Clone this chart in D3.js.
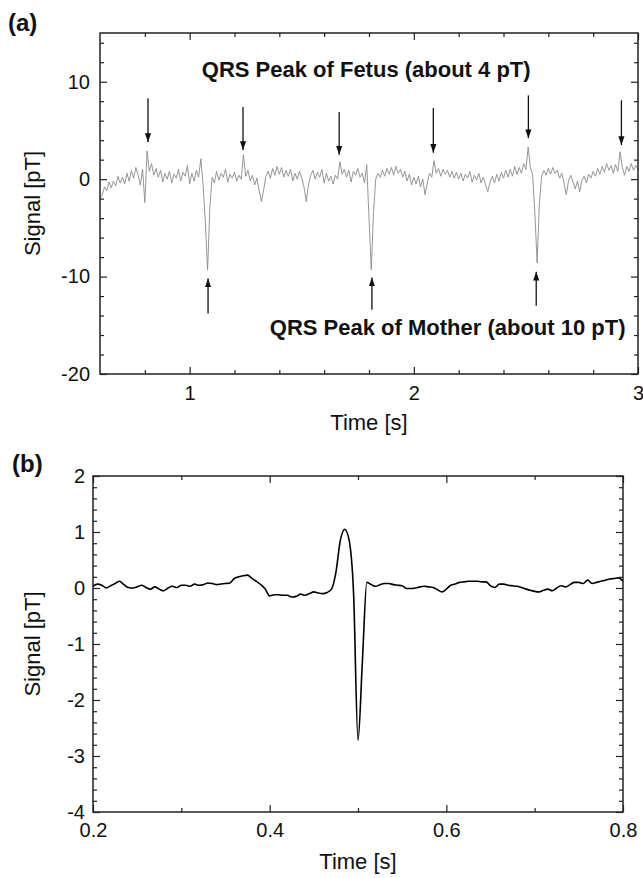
<!DOCTYPE html>
<html>
<head>
<meta charset="utf-8">
<script src="https://cdnjs.cloudflare.com/ajax/libs/d3/7.8.5/d3.min.js"></script>
<style>
body { margin: 0; background: #fff; }
svg text { font-family: "Liberation Sans", Arial, sans-serif; fill: #111; }
</style>
</head>
<body>
<div id="chart-area"></div>
<script>

// ---- panel (a): raw signal, sampled every 0.01 s from 0.60 s ----
const startA = 0.6, stepA = 0.01;
const signalA = [
	-2.0, -1.6, -0.8, -1.2, -0.3, -0.9, -0.2, -0.7, 0.3, -0.4,
	0.2, -0.5, 0.6, -0.2, 0.9, 0.1, 1.2, 0.4, -0.6, 1.0,
	-2.4, 2.9, 0.8, 1.6, 0.4, 1.1, 0.2, 0.9, -0.3, 0.6,
	0.0, 0.8, -0.4, 0.5, 0.1, 1.0, -0.2, 0.7, 0.3, 1.4,
	-0.5, 0.6, -0.2, 0.9, 0.2, 2.1, -0.6, -4.5, -9.3, -3.0,
	0.2, -0.4, 0.8, -0.1, 0.6, 0.2, 1.0, -0.3, 0.5, 0.1,
	0.7, -0.2, 0.4, 0.0, 2.5, 0.3, 0.9, -0.2, 0.4, -0.6,
	0.1, -1.2, -2.3, -1.1, 0.3, 0.8, 0.1, 1.1, 0.4, 1.3,
	0.5, 1.2, 0.2, 0.9, 0.3, 1.0, -0.2, 0.6, 0.0, 0.8,
	0.1, -0.8, -2.3, -0.6, 0.4, 0.9, 0.0, 0.7, 0.2, 1.0,
	-0.4, 0.6, -0.2, 0.3, -0.5, 0.4, 0.0, 1.8, 0.5, 1.0,
	0.2, 0.9, -0.3, 0.8, 0.4, 1.1, 0.2, 0.6, -0.4, 1.5,
	-4.0, -9.3, -3.5, 0.0, 0.6, 0.2, 0.9, 0.3, 1.1, 0.5,
	1.2, 0.4, 1.3, 0.6, 1.0, 0.2, 0.8, -0.2, 0.5, -0.6,
	0.2, -0.5, 0.3, -0.8, 0.0, -1.6, -0.4, 0.6, 0.2, 1.9,
	0.6, 1.1, 0.3, 1.0, 0.5, 0.9, 0.2, 0.8, 0.1, 0.7,
	0.0, 0.6, -0.2, 0.5, 0.1, 0.8, -0.3, 0.4, -0.1, 0.6,
	-0.4, 0.2, -0.6, -1.3, -0.3, 0.3, -0.4, 0.5, -0.2, 0.7,
	0.1, 0.9, 0.2, 1.0, 0.3, 1.3, 0.5, 1.2, 0.6, 1.6,
	1.0, 3.3, 1.2, 0.4, -3.5, -8.6, -2.5, 0.3, 0.9, 0.4,
	1.1, 0.5, 1.2, 0.6, 0.9, 0.1, 0.6, -0.4, -1.6, -0.2,
	0.4, -0.3, -1.0, -0.2, -1.3, -0.1, 0.3, -0.4, 0.5, 0.1,
	0.8, 0.3, 1.1, 0.5, 1.3, 0.7, 1.6, 0.9, 1.4, 0.6,
	1.5, 0.8, 2.8, 1.2, 0.4, 1.3, 0.8, 1.6, 0.9, 1.4,
	1.0
];

// arrows over the fetal peaks (down) and under the maternal peaks (up)
const fetusArrowTime = [0.814, 1.238, 1.667, 2.087, 2.511, 2.926];
const fetusArrowFrom = [8.3, 7.4, 6.9, 7.3, 8.6, 8.1];
const fetusArrowTo = [3.8, 3.0, 2.5, 2.7, 4.2, 3.5];
const motherArrowTime = [1.082, 1.813, 2.546];
const motherArrowFrom = [-13.8, -13.4, -13.0];
const motherArrowTo = [-10.2, -10.1, -9.5];

const xMajorA = [1, 2, 3];
const xMinorA = [0.8, 1.2, 1.4, 1.6, 1.8, 2.2, 2.4, 2.6, 2.8];
const yMajorA = [-20, -10, 0, 10];
const yMinorA = [-18, -16, -14, -12, -8, -6, -4, -2, 2, 4, 6, 8, 12, 14];

// ---- panel (b): averaged fetal QRS, sampled every 0.005 s from 0.2 s ----
const startB = 0.2, stepB = 0.005;
const signalB = [
	0.03, 0.07, 0.05, 0.00, 0.04, 0.08, 0.12, 0.06, 0.01, 0.00,
	0.02, 0.05, 0.01, -0.02, 0.02, -0.02, -0.05, 0.00, 0.03, 0.01,
	0.05, 0.05, 0.03, 0.07, 0.05, 0.06, 0.09, 0.08, 0.06, 0.07,
	0.08, 0.09, 0.17, 0.20, 0.22, 0.23, 0.17, 0.12, 0.06, -0.02,
	-0.14, -0.12, -0.12, -0.13, -0.13, -0.16, -0.15, -0.11, -0.13, -0.10,
	-0.07, -0.09, -0.10, -0.08, -0.02, 0.28, 0.85, 1.05, 0.85, -0.10,
	-2.72, -1.30, 0.10, 0.06, 0.03, 0.06, 0.08, 0.08, 0.06, 0.05,
	0.04, -0.01, -0.01, 0.00, 0.02, 0.03, 0.02, 0.01, -0.03, -0.07,
	-0.02, 0.05, 0.07, 0.10, 0.11, 0.12, 0.12, 0.12, 0.11, 0.11,
	0.04, 0.01, 0.07, 0.07, 0.05, 0.04, 0.03, 0.01, -0.02, -0.04,
	-0.06, -0.07, -0.04, -0.02, -0.05, 0.00, 0.04, 0.02, 0.06, 0.10,
	0.10, 0.08, 0.14, 0.08, 0.10, 0.12, 0.14, 0.16, 0.17, 0.18,
	0.12
];

const xMajorB = [0.2, 0.4, 0.6, 0.8];
const xMinorB = [0.3, 0.5, 0.7];
const yMajorB = [-4, -3, -2, -1, 0, 1, 2];
const yMinorB = [-3.8, -3.6, -3.4, -3.2, -2.8, -2.6, -2.4, -2.2, -1.8, -1.6, -1.4, -1.2,
	-0.8, -0.6, -0.4, -0.2, 0.2, 0.4, 0.6, 0.8, 1.2, 1.4, 1.6, 1.8];


let svg = d3.select("#chart-area").append("svg")
	.attr("width", 643)
	.attr("height", 878);

svg.append("defs").append("marker")
	.attr("id", "head")
	.attr("viewBox", "0 -4 10 8")
	.attr("refX", 10)
	.attr("refY", 0)
	.attr("markerUnits", "userSpaceOnUse")
	.attr("markerWidth", 9)
	.attr("markerHeight", 7)
	.attr("orient", "auto")
	.append("path")
	.attr("d", "M0,-3.5L10,0L0,3.5Z")
	.attr("fill", "#111");

// plain hyphen for negatives, as in the original
let plainFormat = d => String(d);

let panelA = drawPanel({
	left: 100, top: 33, width: 538, height: 341,
	xDomain: [0.6, 3], yDomain: [-20, 15],
	xMajor: xMajorA, xMinor: xMinorA, yMajor: yMajorA, yMinor: yMinorA,
	data: signalA.map((v, i) => ({t: startA + i * stepA, v: v})),
	stroke: "#8a8a8a", strokeWidth: 0.9, curve: d3.curveLinear,
	xPad: 12, yPad: 10, tag: "(a)", tagX: 8, tagY: 31, titleGap: 56
});

let panelB = drawPanel({
	left: 93, top: 476, width: 530, height: 336,
	xDomain: [0.2, 0.8], yDomain: [-4, 2],
	xMajor: xMajorB, xMinor: xMinorB, yMajor: yMajorB, yMinor: yMinorB,
	data: signalB.map((v, i) => ({t: startB + i * stepB, v: v})),
	stroke: "#000", strokeWidth: 1.6, curve: d3.curveMonotoneX,
	xPad: 11, yPad: 8, tag: "(b)", tagX: 12, tagY: 472, titleGap: 57
});

// arrows and annotations on panel (a)
let gA = panelA.g, xA = panelA.x, yA = panelA.y;

fetusArrowTime.forEach((t, i) => {
	gA.append("line")
		.attr("x1", xA(t)).attr("x2", xA(t))
		.attr("y1", yA(fetusArrowFrom[i])).attr("y2", yA(fetusArrowTo[i]))
		.attr("stroke", "#111").attr("stroke-width", 1.3)
		.attr("marker-end", "url(#head)");
});
motherArrowTime.forEach((t, i) => {
	gA.append("line")
		.attr("x1", xA(t)).attr("x2", xA(t))
		.attr("y1", yA(motherArrowFrom[i])).attr("y2", yA(motherArrowTo[i]))
		.attr("stroke", "#111").attr("stroke-width", 1.3)
		.attr("marker-end", "url(#head)");
});

gA.append("text")
	.attr("x", xA(1.7875)).attr("y", yA(10.47))
	.attr("text-anchor", "middle")
	.style("font-size", "22px").style("font-weight", "bold")
	.text("QRS Peak of Fetus (about 4 pT)");

gA.append("text")
	.attr("x", xA(2.151)).attr("y", yA(-16.0))
	.attr("text-anchor", "middle")
	.style("font-size", "22px").style("font-weight", "bold")
	.text("QRS Peak of Mother (about 10 pT)");


// Draw one framed panel with inward ticks on all four sides
function drawPanel(p) {
	let g = svg.append("g")
		.attr("transform", "translate(" + p.left + "," + p.top + ")");

	let x = d3.scaleLinear().domain(p.xDomain).range([0, p.width]);
	let y = d3.scaleLinear().domain(p.yDomain).range([p.height, 0]);

	// signal
	let line = d3.line()
		.x(d => x(d.t))
		.y(d => y(d.v))
		.curve(p.curve);

	g.append("path")
		.datum(p.data)
		.attr("d", line)
		.attr("fill", "none")
		.attr("stroke", p.stroke)
		.attr("stroke-width", p.strokeWidth)
		.attr("stroke-linejoin", "round");

	// axes
	let axes = [
		{axis: d3.axisBottom(x).tickValues(p.xMajor).tickSize(-7).tickPadding(p.xPad).tickFormat(plainFormat), at: [0, p.height]},
		{axis: d3.axisBottom(x).tickValues(p.xMinor).tickSize(-4).tickFormat(""), at: [0, p.height]},
		{axis: d3.axisTop(x).tickValues(p.xMajor).tickSize(-7).tickFormat(""), at: [0, 0]},
		{axis: d3.axisTop(x).tickValues(p.xMinor).tickSize(-4).tickFormat(""), at: [0, 0]},
		{axis: d3.axisLeft(y).tickValues(p.yMajor).tickSize(-7).tickPadding(p.yPad).tickFormat(plainFormat), at: [0, 0]},
		{axis: d3.axisLeft(y).tickValues(p.yMinor).tickSize(-4).tickFormat(""), at: [0, 0]},
		{axis: d3.axisRight(y).tickValues(p.yMajor).tickSize(-7).tickFormat(""), at: [p.width, 0]},
		{axis: d3.axisRight(y).tickValues(p.yMinor).tickSize(-4).tickFormat(""), at: [p.width, 0]}
	];

	axes.forEach(a => {
		let ag = g.append("g")
			.attr("transform", "translate(" + a.at[0] + "," + a.at[1] + ")")
			.call(a.axis.tickSizeOuter(0));
		ag.select(".domain").remove();
		ag.selectAll("line").attr("stroke", "#222").attr("stroke-width", 1.2);
		ag.attr("font-family", null).attr("font-size", null);
		ag.selectAll("text").style("font-size", "20px").attr("fill", "#111");
	});

	// frame
	g.append("rect")
		.attr("width", p.width)
		.attr("height", p.height)
		.attr("fill", "none")
		.attr("stroke", "#222")
		.attr("stroke-width", 1.5);

	// titles
	g.append("text")
		.attr("x", p.width / 2)
		.attr("y", p.height + p.titleGap)
		.attr("text-anchor", "middle")
		.style("font-size", "22px")
		.text("Time [s]");

	g.append("text")
		.attr("transform", "translate(" + (40 - p.left) + "," + (p.height / 2) + ") rotate(-90)")
		.attr("text-anchor", "middle")
		.style("font-size", "22px")
		.text("Signal [pT]");

	svg.append("text")
		.attr("x", p.tagX)
		.attr("y", p.tagY)
		.style("font-size", "24px")
		.style("font-weight", "bold")
		.text(p.tag);

	return {g: g, x: x, y: y};
}

</script>
</body>
</html>
